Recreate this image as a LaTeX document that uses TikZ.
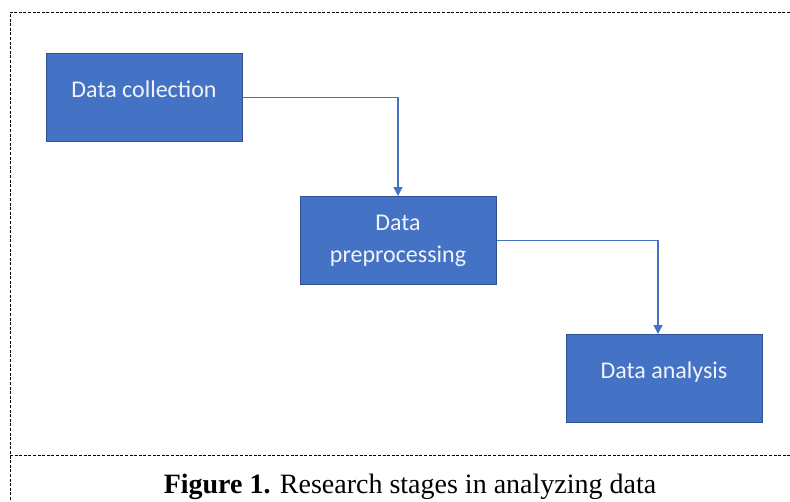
\documentclass[tikz,border=0pt]{standalone}
\usepackage{fontspec}
\setmainfont{Liberation Serif}
\newfontfamily\boxfont{Carlito}
\usetikzlibrary{positioning,arrows.meta}
\definecolor{officeblue}{HTML}{4472C4}
\definecolor{officeedge}{HTML}{2F528F}

\begin{document}
\begin{tikzpicture}[x=1pt,y=-1pt,>={Triangle[width=9pt,length=9pt]},shorten >=0pt,auto,
    stage node/.style={rectangle,draw=officeedge,fill=officeblue,line width=1pt,minimum width=196pt,minimum height=88pt,inner sep=0pt,align=center,text=white!92!officeblue,font=\boxfont\fontsize{24}{32}\selectfont},
    high text/.style={text depth=17pt},
    link/.style={draw=officeblue,line width=1.3pt},
    frame line/.style={dash pattern=on 3pt off 1.6pt,line width=0.8pt}]

            \useasboundingbox (0,0) rectangle (790,501);

            \node[stage node, high text] (collect) at (144,97.5) {Data collection};
            \node[stage node] (prep) [below right=54pt and 57pt of collect.south east, anchor=north west] {Data\\preprocessing};
            \node[stage node, high text] (analysis) [below right=49pt and 69pt of prep.south east, anchor=north west] {Data analysis};

            \coordinate (drop) at ([xshift=-6pt]analysis.north);

            \draw[link,->] (collect.east) -| (prep.north);
            \draw[link,->] (prep.east) -| (drop);

            % frame round the figure
            \draw[frame line] (790,12) -- (10,12) -- (10,501);
            \draw[frame line] (10,455) -- (790,455);

            \node[anchor=base] (caption) at (410,493) {\fontsize{28}{32}\selectfont\textbf{Figure 1.} Research stages in analyzing data};
        \end{tikzpicture}
\end{document}
